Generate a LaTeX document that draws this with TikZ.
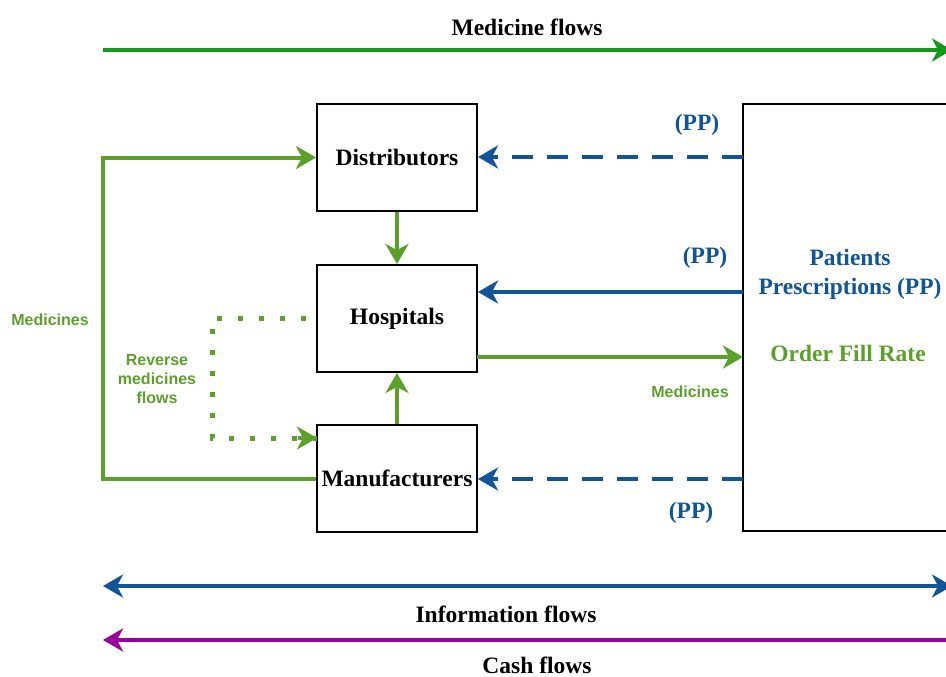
\documentclass[tikz,border=0pt]{standalone}
\usepackage{fontspec}
\setmainfont{Liberation Serif}
\newfontfamily\sansb{Liberation Sans}
\usetikzlibrary{arrows.meta}
\definecolor{flowgreen}{HTML}{12991A}
\definecolor{medgreen}{HTML}{5BA02A}
\definecolor{infoblue}{HTML}{10549A}
\definecolor{cashpurple}{HTML}{990099}
\begin{document}
\begin{tikzpicture}[x=1pt,y=-1pt,
  actor/.style={draw,line width=2pt,minimum width=160pt,minimum height=107pt,inner sep=0pt,
    font=\fontsize{23.5}{26}\selectfont\bfseries},
  serifl/.style={font=\fontsize{23.5}{26}\selectfont\bfseries},
  sansl/.style={font=\sansb\fontsize{16}{19}\selectfont\bfseries,text=medgreen,align=center},
  tip/.style={-{Stealth[length=20pt,width=23pt,inset=6pt]}},
  tips/.style={{Stealth[length=20pt,width=23pt,inset=6pt]}-{Stealth[length=20pt,width=23pt,inset=6pt]}},
  flow/.style={line width=4pt},
  ppdash/.style={flow,infoblue,dash pattern=on 21pt off 14pt},
  revdot/.style={flow,medgreen,line width=5pt,dash pattern=on 5pt off 16pt}]
\clip (0,0) rectangle (946,677);

% supply chain actors
\node[actor] (dist) at (397,157.5) {Distributors};
\node[actor] (hosp) at (397,318.5) {Hospitals};
\node[actor] (man) at (397,478.5) {Manufacturers};
\draw[line width=2pt] (743,104) rectangle (990,531);

% patient side
\node[serifl,text=infoblue] (pat) at (850,257) {Patients};
\node[serifl,text=infoblue] (presc) at (850,289) {Prescriptions (PP)};
\node[serifl,text=medgreen] (ofr) at (848,353) {Order Fill Rate};

% overall flows
\node[serifl] (medflows) at (527,27) {Medicine flows};
\coordinate (mfL) at (103,50);
\coordinate (mfR) at (952,50);
\draw[flow,flowgreen,tip] (mfL) -- (mfR);

\coordinate (ifL) at (103,586);
\coordinate (ifR) at (952,586);
\draw[flow,infoblue,tips] (ifL) -- (ifR);
\node[serifl] (infoflows) at (506,614) {Information flows};

\coordinate (cfL) at (103,640);
\coordinate (cfR) at (960,640);
\draw[flow,cashpurple,tip] (cfR) -- (cfL);
\node[serifl] (cashflows) at (537,665) {Cash flows};

% medicine movements between actors
\draw[flow,medgreen,tip] (dist.south) -- (hosp.north);
\draw[flow,medgreen,tip] (man.north) -- (hosp.south);
\coordinate (loopL) at (103,478.5);
\draw[flow,medgreen,tip] (man.west) -- (loopL) |- (dist.west);
\node[sansl] (medleft) at (50,320) {Medicines};

% reverse flows
\coordinate (rvA) at (306,318);
\coordinate (rvB) at (212,318);
\coordinate (rvC) at (212,438);
\coordinate (rvD) at (317,438);
\draw[revdot] (rvA) -- (rvB) -- (rvC) -- (rvD);
\draw[flow,medgreen,tip] (298,438) -- (rvD);
\node[sansl,text width=100pt] (revlbl) at (157,379) {Reverse\\medicines\\flows};

% prescriptions and medicines between hospitals and patients
\coordinate (ppD) at (743,157);
\draw[ppdash,tip] (ppD) -- (dist.east |- ppD);
\node[serifl,text=infoblue] (pp1) at (697,125) {(PP)};

\coordinate (ppH) at (743,292);
\draw[flow,infoblue,tip] (ppH) -- (hosp.east |- ppH);
\node[serifl,text=infoblue] (pp2) at (705,258) {(PP)};

\coordinate (hmA) at (477,357);
\coordinate (hmB) at (743,357);
\draw[flow,medgreen,tip] (hmA) -- (hmB);
\node[sansl] (medright) at (690,392) {Medicines};

\coordinate (ppM) at (743,479);
\draw[ppdash,tip] (ppM) -- (man.east |- ppM);
\node[serifl,text=infoblue] (pp3) at (691,513) {(PP)};
\end{tikzpicture}
\end{document}
